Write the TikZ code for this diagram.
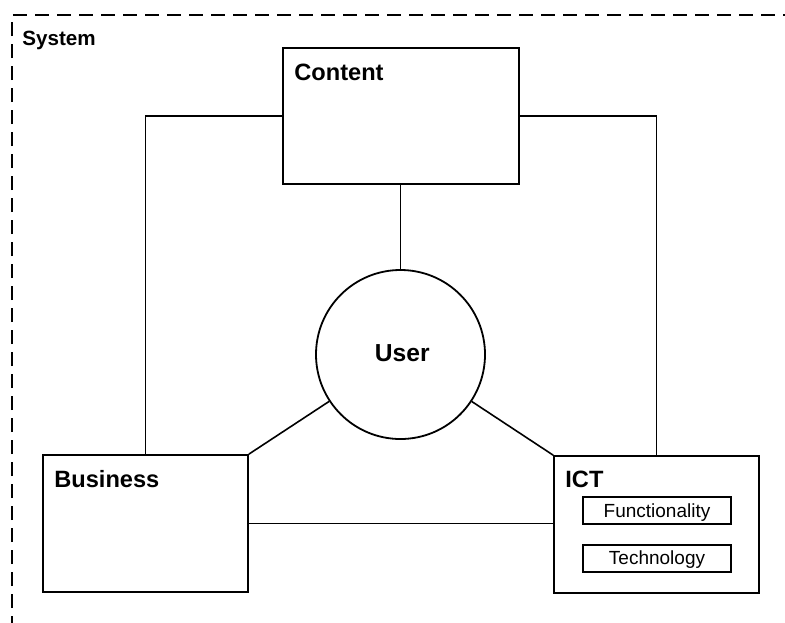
\documentclass[tikz,border=0pt]{standalone}
\usepackage{fontspec}
\setmainfont{Liberation Sans}
\begin{document}
\begin{tikzpicture}[x=0.5pt,y=-0.5pt,
  box/.style={draw,line width=0.9pt,inner sep=0pt,rectangle},
  subbox/.style={draw,line width=0.8pt,inner sep=0pt,rectangle,minimum width=74pt,minimum height=13.5pt},
  conn/.style={line width=0.8pt},
  biglabel/.style={anchor=base west,inner sep=0pt,font=\fontsize{11.8}{13}\selectfont\bfseries},
  sublabel/.style={anchor=base,inner sep=0pt,font=\fontsize{9.5}{11}\selectfont},
  sysborder/.style={line width=0.7pt,dash pattern=on 7pt off 4pt}
]
\useasboundingbox (0,0) rectangle (785,622);
% system border
\coordinate (sysTR) at (790,15);
\coordinate (sysTL) at (12,15);
\coordinate (sysBL) at (12,630);
\draw[sysborder] (sysBL) -- (sysTL) -- (sysTR);
\node[biglabel,font=\fontsize{10.3}{13}\selectfont\bfseries] (syslbl) at (22,45) {System};
% boxes
\node[box,minimum width=118pt,minimum height=68pt] (content) at (401,116) {};
\node[box,minimum width=102.5pt,minimum height=68.5pt] (business) at (145.5,523.5) {};
\node[box,minimum width=102.5pt,minimum height=68.5pt] (ict) at (656.5,524.5) {};
\node[draw,circle,line width=0.9pt,minimum size=84.5pt,inner sep=0pt] (user) at (400.5,354.5) {};
\node[subbox] (func) at (657,510.5) {};
\node[subbox] (tech) at (657,558.5) {};
% labels
\node[biglabel] (contentlbl) at (294,80) {Content};
\node[biglabel] (businesslbl) at (54,487) {Business};
\node[biglabel] (ictlbl) at (565,487) {ICT};
\node[biglabel,font=\fontsize{12.3}{14}\selectfont\bfseries] (userlbl) at (374.5,361) {User};
\node[sublabel] (funclbl) at (657,517) {Functionality};
\node[sublabel] (techlbl) at (657,564) {Technology};
% connectors
\draw[conn] (user.north |- content.south) -- (user.north);
\draw[conn] (content.west) -| (business.north);
\draw[conn] (content.east) -| (ict.north);
\draw[conn] (business.north east) -- (user);
\draw[conn] (ict.north west) -- (user);
\draw[conn] (business.east) -- (business.east -| ict.west);
\end{tikzpicture}
\end{document}
